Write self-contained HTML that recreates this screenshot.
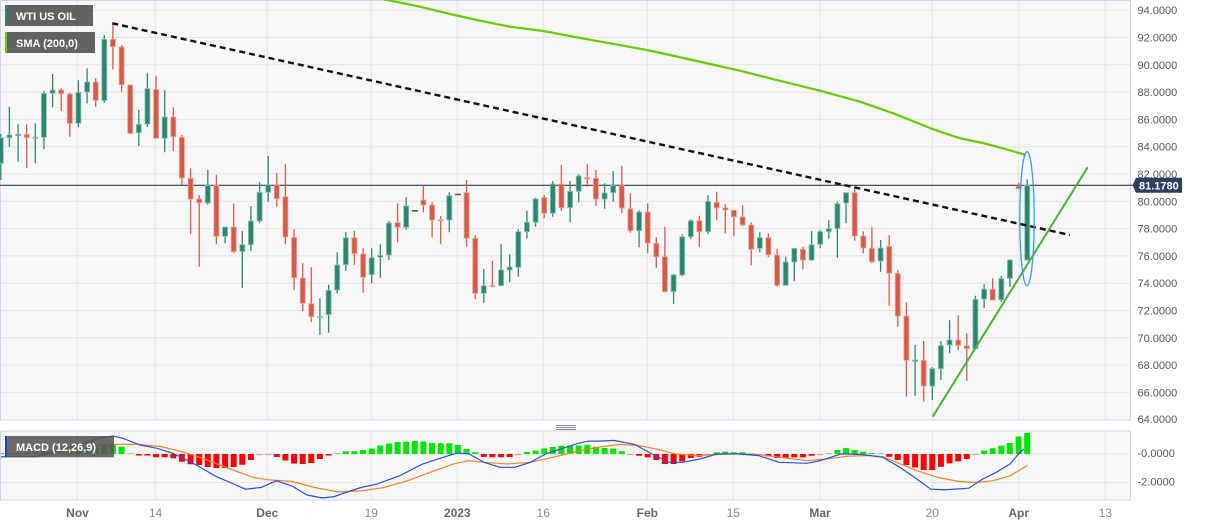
<!DOCTYPE html>
<html><head><meta charset="utf-8"><style>
html,body{margin:0;padding:0;background:#fff;}
svg{display:block;font-family:"Liberation Sans",Arial,sans-serif;}
</style></head><body>
<svg width="1207" height="526" viewBox="0 0 1207 526" xmlns="http://www.w3.org/2000/svg">
<rect x="0" y="0" width="1207" height="526" fill="#fff"/>
<rect x="0.5" y="0.5" width="1130" height="419.5" fill="#f7f7f7" stroke="#cdd5e6"/>
<path stroke="#e3e3e3" fill="none" d="M1 10.2H1130M1 37.5H1130M1 64.8H1130M1 92.1H1130M1 119.4H1130M1 146.7H1130M1 174H1130M1 201.3H1130M1 228.6H1130M1 255.9H1130M1 283.2H1130M1 310.5H1130M1 337.8H1130M1 365.1H1130M1 392.4H1130M77.3 1V419M155.3 1V419M267.3 1V419M371.3 1V419M457.3 1V419M543.3 1V419M647.3 1V419M733.3 1V419M820 1V419M932.3 1V419M1018.7 1V419M1105.3 1V419"/>
<polyline fill="none" stroke="#66cc00" stroke-width="2.2" points="383,-1 390,0.5 420,6.7 450,14 480,20.7 510,26.7 543.3,31 576.7,37.3 610,43.3 646.7,50 670,55 710,64 740,70.7 770,78.3 820,90.7 860,101.7 893.3,113.3 933.3,129.3 960,138.3 983,143 1000,147.5 1025.7,155"/>
<line x1="0" y1="185.3" x2="1133" y2="185.3" stroke="#2b3f5f" stroke-width="1.2"/>
<path stroke="#2d8570" stroke-width="1.3" fill="none" d="M0.8 134V180M9.4 106.7V146.7M18.1 124.3V161.7M35.3 123.3V163.3M43.9 90.7V149.3M52.6 74V107.3M78.4 80.3V127.3M87.1 68.3V103.3M104.3 35V102.7M138.8 110V146M147.4 73.3V127M164.7 90.3V152.3M207.8 170.3V204.7M225.1 227V243.3M242.3 231V288M250.9 206.3V251M259.6 182.3V223.3M268.2 156V201.7M319.9 298.3V335M328.6 284.7V332.7M337.2 252.3V293.3M345.8 232V270.7M371.7 248.3V283.3M380.3 244.3V277.7M388.9 221V260M406.2 197.3V229.7M449.3 192.3V232.3M483.8 269V302.7M501.1 244.3V285.7M509.7 254.3V282.3M518.3 229.3V276.7M526.9 210.7V238.3M535.6 197.7V226.7M552.8 181.3V216.7M570.1 181V222.3M578.7 174.3V202.3M604.6 183.3V208.7M613.2 171V201.7M639.1 210.3V247.3M673.6 274V304M682.2 234.3V276.3M690.8 219.3V239.3M708.1 195.3V234.3M759.8 232.3V252.3M785.7 256.7V285.3M794.3 248.3V281M811.6 231V261M820.2 230V248.3M828.8 220.3V238.7M837.4 201.7V257.7M846.1 192.7V223.3M880.6 240V271.7M915.1 345V395.7M932.3 367.3V400M940.9 341V380M949.6 320.3V353.3M975.4 295.7V348.7M984.1 284.3V308.3M1001.3 275.7V302M1009.9 259.3V286.7M1027.2 179.3V260"/>
<path fill="#2d8570" stroke="#8cc2b3" stroke-width="0.8" d="M-1.7 137.7h5v25.6h-5zM6.9 135h5v2.7h-5zM15.6 134.3h5v1.4h-5zM32.8 137.3h5v1h-5zM41.4 93.3h5v44h-5zM50.1 90h5v3.3h-5zM75.9 92.3h5v31h-5zM84.6 82h5v10h-5zM101.8 39.3h5v61.4h-5zM136.3 124.3h5v8.4h-5zM144.9 88.7h5v35.3h-5zM162.2 117h5v21.3h-5zM205.3 185.3h5v17.7h-5zM222.6 227h5v9.3h-5zM239.8 244.7h5v7h-5zM248.4 221h5v23.7h-5zM257.1 192.3h5v28.7h-5zM265.7 184.7h5v7.6h-5zM317.4 316.7h5v1h-5zM326.1 290.3h5v24.4h-5zM334.7 265h5v25h-5zM343.3 237.7h5v27h-5zM369.2 257.7h5v17h-5zM377.8 255.3h5v2h-5zM386.4 223h5v32h-5zM403.7 206h5v21.3h-5zM446.8 195.7h5v24.3h-5zM481.3 285.7h5v7.6h-5zM498.6 270h5v15.7h-5zM507.2 267h5v3h-5zM515.8 231.7h5v35.6h-5zM524.4 222.3h5v9.4h-5zM533.1 199h5v23.3h-5zM550.3 184h5v29.3h-5zM567.6 191.3h5v16.4h-5zM576.2 176h5v15.3h-5zM602.1 193h5v6h-5zM610.7 185.7h5v7h-5zM636.6 212h5v18.7h-5zM671.1 275h5v16.7h-5zM679.7 236.7h5v38.3h-5zM688.3 220.7h5v16h-5zM705.6 201.3h5v30.4h-5zM757.3 237.7h5v10.6h-5zM783.2 262h5v23.3h-5zM791.8 248.3h5v13.7h-5zM809.1 244.7h5v15.3h-5zM817.7 231.7h5v12.6h-5zM826.3 228.7h5v3h-5zM834.9 203.7h5v25h-5zM843.6 192.7h5v10.3h-5zM878.1 248h5v13h-5zM912.6 360h5v1.3h-5zM929.8 368.7h5v17.3h-5zM938.4 345.7h5v23h-5zM947.1 340h5v5h-5zM972.9 299.3h5v49.4h-5zM981.6 289.3h5v9.7h-5zM998.8 278.7h5v21h-5zM1007.4 260h5v18.3h-5zM1024.7 185.3h5v74.7h-5z"/>
<path stroke="#d65a48" stroke-width="1.3" fill="none" d="M26.7 124.3V168.3M61.2 88.3V111M69.8 92.7V136.7M95.7 78.3V106.7M112.9 23.3V69.3M121.6 45V91.7M130.2 85V134.3M156.1 76.3V138.3M173.3 107.3V151M181.9 135V185M190.6 168.3V234.3M199.2 195V266.7M216.4 175V244.3M233.7 203.3V253.3M276.8 172.7V206.7M285.4 164.3V244.3M294.1 229.3V290M302.7 263.3V311.3M311.3 267.3V322.3M354.4 231V264.7M363.1 248.3V292.7M397.6 203.3V242.3M423.4 185.3V212.3M432.1 202.3V237.3M440.7 216V244.3M466.6 180V246.7M475.2 235V299.3M492.4 261V287.3M544.2 195V218.3M561.4 165V211M587.3 164.3V186.7M595.9 170V205.7M621.8 165.7V213.3M630.4 193.3V232.7M647.7 203.3V253.3M656.3 237.3V268.3M664.9 226.7V292.3M699.4 215.7V246.7M716.7 191.7V220.3M725.3 204.3V233.3M733.9 210.3V236.3M742.6 205.3V226.3M751.2 222.3V265.3M768.4 233.3V257.3M777.1 248.7V286.7M802.9 246.7V269.3M854.7 187.3V240.7M863.3 231.3V253.3M871.9 227.3V263.3M889.2 235.3V305.7M897.8 270V326.7M906.4 302.3V396.7M923.7 341V401.7M958.2 315.3V350.3M966.8 333.3V381M992.7 278.3V300M1018.6 182.7V189.3"/>
<path fill="#d65a48" stroke="#eba398" stroke-width="0.8" d="M24.2 134.3h5v3.4h-5zM58.7 90h5v3.7h-5zM67.3 94h5v29.3h-5zM93.2 82h5v18.3h-5zM110.4 39.3h5v7.4h-5zM119.1 47h5v37.7h-5zM127.7 85h5v48.3h-5zM153.6 89.3h5v49h-5zM170.8 117h5v19.7h-5zM179.4 137.3h5v40.7h-5zM188.1 178.3h5v20.7h-5zM196.7 199h5v3.7h-5zM213.9 185.3h5v51h-5zM231.2 227h5v24.7h-5zM274.3 184.7h5v14h-5zM282.9 196.7h5v40.3h-5zM291.6 237.3h5v40.4h-5zM300.2 278h5v25.3h-5zM308.8 303.7h5v13h-5zM351.9 237.7h5v16h-5zM360.6 254h5v23.3h-5zM395.1 222.7h5v4.6h-5zM420.9 200h5v5h-5zM429.6 205h5v15h-5zM438.2 219.7h5v1h-5zM464.1 192.7h5v45.6h-5zM472.7 238.3h5v55h-5zM489.9 285.7h5v1h-5zM541.7 197.3h5v16h-5zM558.9 184h5v23.7h-5zM584.8 177.7h5v1.3h-5zM593.4 178.3h5v20.7h-5zM619.3 185.7h5v22.3h-5zM627.9 209h5v21.7h-5zM645.2 212h5v31h-5zM653.8 243.3h5v13.4h-5zM662.4 256.7h5v35h-5zM696.9 220.7h5v11h-5zM714.2 202.3h5v5.7h-5zM722.8 208h5v2h-5zM731.4 210.3h5v6.4h-5zM740.1 217h5v8h-5zM748.7 225h5v24.3h-5zM765.9 237.7h5v17h-5zM774.6 255h5v30.3h-5zM800.4 249.3h5v10.7h-5zM852.2 192.7h5v43.3h-5zM860.8 236h5v12h-5zM869.4 248.3h5v13.4h-5zM886.7 246.3h5v27h-5zM895.3 273.3h5v42.7h-5zM903.9 316h5v44.3h-5zM921.2 360.3h5v25.7h-5zM955.7 340h5v5.3h-5zM964.3 345.7h5v3h-5zM990.2 289.3h5v10.7h-5zM1016.1 186h5v2.7h-5z"/>
<path fill="#555" d="M411.8 210h6v1.6h-6zM454.9 193.7h6v1.6h-6z"/>
<line x1="112.3" y1="23.3" x2="1070" y2="235" stroke="#111" stroke-width="2.4" stroke-dasharray="6,4"/>
<line x1="932.7" y1="416.7" x2="1087.7" y2="167.3" stroke="#4caf3c" stroke-width="2"/>
<ellipse cx="1027" cy="218.7" rx="7.2" ry="67" fill="none" stroke="#3399ff" stroke-width="1.3"/>
<rect x="5" y="5" width="88" height="21" fill="#555" fill-opacity="0.92"/>
<rect x="5" y="5" width="2" height="21" fill="#2d8570"/>
<text x="16" y="19.8" font-size="11" font-weight="bold" fill="#fff">WTI US OIL</text>
<rect x="5" y="32" width="90" height="21" fill="#555" fill-opacity="0.92"/>
<rect x="5" y="32" width="2" height="21" fill="#66cc00"/>
<text x="16" y="46.8" font-size="11" font-weight="bold" fill="#fff">SMA (200,0)</text>
<g font-size="11" fill="#555">
<text x="1137.5" y="14.2">94.0000</text>
<text x="1137.5" y="41.5">92.0000</text>
<text x="1137.5" y="68.8">90.0000</text>
<text x="1137.5" y="96.1">88.0000</text>
<text x="1137.5" y="123.4">86.0000</text>
<text x="1137.5" y="150.7">84.0000</text>
<text x="1137.5" y="178">82.0000</text>
<text x="1137.5" y="205.3">80.0000</text>
<text x="1137.5" y="232.6">78.0000</text>
<text x="1137.5" y="259.9">76.0000</text>
<text x="1137.5" y="287.2">74.0000</text>
<text x="1137.5" y="314.5">72.0000</text>
<text x="1137.5" y="341.8">70.0000</text>
<text x="1137.5" y="369.1">68.0000</text>
<text x="1137.5" y="396.4">66.0000</text>
<text x="1137.5" y="423">64.0000</text>
<text x="1137.5" y="457">-0.0000</text>
<text x="1137.5" y="485.5">-2.0000</text>
</g>
<polygon points="1132.5,185.3 1136,177.7 1182,177.7 1182,192.8 1136,192.8" fill="#2b3f5f"/>
<text x="1139" y="189.3" font-size="11" font-weight="bold" fill="#fff">81.1780</text>
<path stroke="#8a8a8a" stroke-width="0.9" d="M556 425.5H576M556 427.5H576M556 429.5H576"/>
<rect x="0.5" y="431" width="1130" height="69" fill="#f7f7f7" stroke="#cdd5e6"/>
<path stroke="#e3e3e3" fill="none" d="M1 454H1130M1 482.5H1130M77.3 432V499.5M155.3 432V499.5M267.3 432V499.5M371.3 432V499.5M457.3 432V499.5M543.3 432V499.5M647.3 432V499.5M733.3 432V499.5M820 432V499.5M932.3 432V499.5M1018.7 432V499.5M1105.3 432V499.5"/>
<path fill="#00e400" d="M1 453h2.8v1h-2.8zM6.4 453h6v1h-6zM15.1 453h6v1h-6zM23.7 452.8h6v1.2h-6zM32.3 452h6v2h-6zM40.9 451h6v3h-6zM49.6 450.5h6v3.5h-6zM58.2 450h6v4h-6zM66.8 449h6v5h-6zM75.4 448.5h6v5.5h-6zM84.1 448h6v6h-6zM92.7 447h6v7h-6zM101.3 445.5h6v8.5h-6zM109.9 445h6v9h-6zM118.6 446.7h6v7.3h-6zM342.8 451.3h6v2.7h-6zM351.4 451.3h6v2.7h-6zM360.1 450h6v4h-6zM368.7 448.5h6v5.5h-6zM377.3 445.5h6v8.5h-6zM385.9 443.5h6v10.5h-6zM394.6 442h6v12h-6zM403.2 441.7h6v12.3h-6zM411.8 441h6v13h-6zM420.4 441.5h6v12.5h-6zM429.1 443h6v11h-6zM437.7 443.3h6v10.7h-6zM446.3 443.3h6v10.7h-6zM454.9 445h6v9h-6zM463.6 449h6v5h-6zM472.2 452.3h6v1.7h-6zM523.9 452h6v2h-6zM532.6 450.5h6v3.5h-6zM541.2 448.5h6v5.5h-6zM549.8 447h6v7h-6zM558.4 445.7h6v8.3h-6zM567.1 445.7h6v8.3h-6zM575.7 445.5h6v8.5h-6zM584.3 444.7h6v9.3h-6zM592.9 446.7h6v7.3h-6zM601.6 448h6v6h-6zM610.2 448.6h6v5.4h-6zM618.8 451.3h6v2.7h-6zM713.7 452.3h6v1.7h-6zM722.3 451.6h6v2.4h-6zM730.9 452.3h6v1.7h-6zM739.6 452.3h6v1.7h-6zM834.4 450h6v4h-6zM843.1 448h6v6h-6zM851.7 450h6v4h-6zM860.3 451.6h6v2.4h-6zM868.9 453h6v1h-6zM981.1 450.6h6v3.4h-6zM989.7 448.3h6v5.7h-6zM998.3 445.6h6v8.4h-6zM1006.9 443h6v11h-6zM1015.6 436.5h6v17.5h-6zM1024.2 433h6v21h-6z"/>
<path fill="#7fe87f" d="M127.2 453h6v1h-6zM334.2 453h6v1h-6zM748.2 453h6v1h-6zM825.8 453h6v1h-6zM877.6 453h6v1h-6z"/>
<path fill="#ff0000" d="M135.8 454h6v1.5h-6zM144.4 454h6v1.5h-6zM153.1 454h6v3.3h-6zM161.7 454h6v3.3h-6zM170.3 454h6v4.3h-6zM178.9 454h6v7.7h-6zM187.6 454h6v10.3h-6zM196.2 454h6v11h-6zM204.8 454h6v13h-6zM213.4 454h6v14h-6zM222.1 454h6v14h-6zM230.7 454h6v13h-6zM239.3 454h6v10.7h-6zM247.9 454h6v6h-6zM273.8 454h6v3h-6zM282.4 454h6v6.5h-6zM291.1 454h6v9.5h-6zM299.7 454h6v10h-6zM308.3 454h6v9h-6zM316.9 454h6v5h-6zM325.6 454h6v1.5h-6zM480.8 454h6v3h-6zM489.4 454h6v3.3h-6zM498.1 454h6v3.3h-6zM506.7 454h6v3h-6zM636.1 454h6v1.7h-6zM644.7 454h6v3.4h-6zM653.3 454h6v6h-6zM661.9 454h6v10h-6zM670.6 454h6v10h-6zM679.2 454h6v7.4h-6zM687.8 454h6v4h-6zM696.4 454h6v2.7h-6zM765.4 454h6v2.4h-6zM774.1 454h6v4h-6zM782.7 454h6v4h-6zM791.3 454h6v3.4h-6zM799.9 454h6v3.4h-6zM808.6 454h6v1.7h-6zM886.2 454h6v2.7h-6zM894.8 454h6v6h-6zM903.4 454h6v11h-6zM912.1 454h6v13.5h-6zM920.7 454h6v16h-6zM929.3 454h6v16h-6zM937.9 454h6v12.8h-6zM946.6 454h6v9.4h-6zM955.2 454h6v7.4h-6zM963.8 454h6v5h-6z"/>
<path fill="#ff8888" d="M256.6 454h6v1h-6zM265.2 454h6v1h-6zM515.3 454h6v1h-6zM627.4 454h6v1h-6zM705.1 454h6v1h-6zM756.8 454h6v1h-6zM817.2 454h6v1h-6zM972.4 454h6v1h-6z"/>
<polyline fill="none" stroke="#f5822a" stroke-width="1.2" points="1,456.7 37.6,456.7 76.1,448.8 99.2,445.4 114.6,444.4 137.7,444.4 160.8,446.5 183.9,452.2 207,459.9 230.1,469 253.2,477.4 268.6,479.8 291.7,481.4 314.8,487.5 337.9,491.9 361,490.9 384.1,487.5 407.2,480.8 430.3,472.3 453.4,463.9 468.8,460.6 484.2,462.3 507.3,464 530.4,462.3 553.5,457.2 576.6,451.5 599.7,447 620.8,444.4 638,445.4 655.2,448.8 675.9,453.9 696.6,455.6 717.3,454.5 737.9,453.9 758.6,454.5 779.3,457.2 806.8,460.6 827.5,458.9 848.1,456.2 868.8,455.6 882.6,456.6 896.4,462.3 917,470.7 937.7,477.4 958.4,481.4 975.6,482.5 992.8,480.8 1010.1,475.8 1027.3,465.6"/>
<polyline fill="none" stroke="#2a4fe8" stroke-width="1.2" points="1,456.7 35,456.7 60,450 85,443 100,438 113,436 123,438.3 140,445 157,448.3 173,453.3 190,461.7 200,467 214.7,475.8 230.1,482.5 245.5,489.2 260.9,487.5 276.3,480.8 291.7,485.9 307.1,495 322.5,498 334.1,496.6 345.6,492.6 361,487.5 376.4,484.2 399.5,475.8 422.6,464 438,458.9 457.3,452.9 468.8,453.9 484.2,462.3 499.6,467.3 515,467.3 530.4,462.3 545.8,453.9 561.2,448.8 576.6,443.8 588.2,441.1 599.7,441.1 613.9,440.4 634.6,444.4 651.8,453.9 669,462.3 682.8,462.3 700,459 717.3,453.9 737.9,453.9 758.6,455.6 779.3,462.3 806.8,463.3 820.6,460.6 841.3,453.9 862,454.5 882.6,457.2 899.8,467.3 917,479.1 930.8,489.2 944.6,489.9 968.7,488.2 982.5,479.1 996.3,472.3 1010.1,463.9 1018.7,453.9 1023.8,448.8"/>
<rect x="5" y="436" width="109" height="21.3" fill="#555" fill-opacity="0.88"/>
<rect x="5" y="436" width="2" height="21.3" fill="#1a3ee8"/>
<text x="16" y="451" font-size="11" font-weight="bold" fill="#fff">MACD (12,26,9)</text>
<g font-size="12" text-anchor="middle">
<text x="77.5" y="517" fill="#666" font-weight="bold">Nov</text>
<text x="155.5" y="517" fill="#888">14</text>
<text x="267.3" y="517" fill="#666" font-weight="bold">Dec</text>
<text x="371.3" y="517" fill="#888">19</text>
<text x="457.3" y="517" fill="#666" font-weight="bold">2023</text>
<text x="543.3" y="517" fill="#888">16</text>
<text x="647.3" y="517" fill="#666" font-weight="bold">Feb</text>
<text x="733.3" y="517" fill="#888">15</text>
<text x="820" y="517" fill="#666" font-weight="bold">Mar</text>
<text x="932.3" y="517" fill="#888">20</text>
<text x="1018.7" y="517" fill="#666" font-weight="bold">Apr</text>
<text x="1105.3" y="517" fill="#888">13</text>
</g>
</svg>
</body></html>
